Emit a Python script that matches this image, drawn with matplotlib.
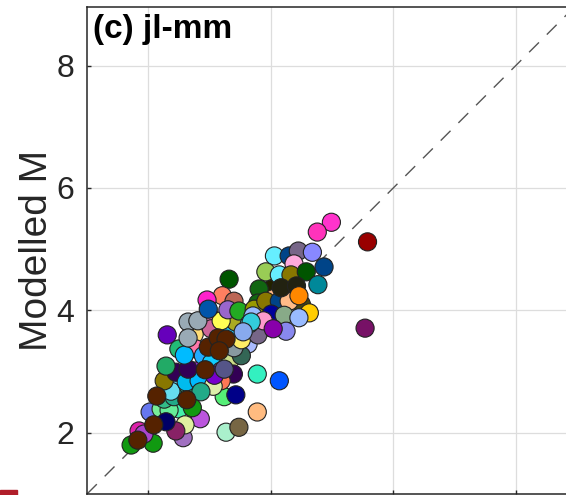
import matplotlib
matplotlib.use("Agg")
import matplotlib.pyplot as plt
from matplotlib.patches import Rectangle

# Observed M (x) and Modelled M (y), one colour per event
obs_m = [3.60, 3.88, 4.22, 3.63, 2.75, 3.11, 2.50, 2.78, 3.35, 3.04, 4.01,
         3.52, 3.32, 2.94, 2.54, 2.41, 4.04, 4.50, 4.25, 3.81, 2.78, 2.50,
         5.58, 5.54, 4.99, 4.76, 4.14, 3.78, 3.78, 3.27, 3.48, 3.24, 3.43, 3.39,
         3.32, 2.31, 2.85, 2.57, 2.60, 2.45, 2.08, 1.72, 2.23, 2.72, 1.85, 1.93,
         2.03, 2.21, 2.34, 2.26, 2.42, 2.37, 2.80, 2.29, 2.26, 2.45, 2.62, 2.83,
         2.65, 2.29, 2.59, 2.90, 3.03, 3.52, 3.19, 3.19, 3.06, 3.08, 3.24, 2.86,
         3.40, 3.52, 3.35, 3.03, 3.43, 3.19, 2.65, 2.81, 2.65, 3.21, 2.96, 3.40,
         2.98, 3.30, 3.48, 3.79, 3.73, 3.92, 4.14, 4.30, 3.71, 4.01, 4.22, 4.25,
         3.96, 3.79, 3.65, 3.88, 4.06, 4.30, 4.45, 4.68, 4.38, 3.92, 4.14, 4.33,
         4.58, 4.87, 4.77, 4.17, 4.42, 4.46, 4.63, 4.46, 4.04, 3.68, 3.55,
         1.83, 2.09, 2.14, 2.63, 2.93, 2.98, 3.14, 3.27, 3.16]
mod_m = [3.89, 3.99, 4.19, 3.45, 3.61, 3.45, 2.39, 3.01, 3.21, 3.86, 4.35,
         3.83, 3.45, 2.80, 2.63, 2.83, 4.19, 4.10, 4.35, 4.35, 3.37, 3.37,
         5.12, 3.71, 5.44, 5.28, 2.85, 2.96, 2.34, 2.01, 2.09, 2.59, 2.62, 2.96,
         4.51, 3.60, 2.23, 1.92, 2.13, 2.03, 1.83, 1.80, 2.23, 2.41, 2.03, 1.98,
         2.34, 2.39, 2.37, 2.55, 2.59, 2.68, 2.75, 2.18, 2.85, 2.99, 2.83, 2.85,
         3.04, 3.09, 3.27, 3.26, 3.14, 3.26, 3.01, 2.85, 2.76, 2.94, 3.04, 2.67,
         3.39, 3.52, 3.71, 3.70, 3.81, 3.83, 3.81, 3.83, 3.55, 4.24, 4.17, 4.15,
         4.02, 4.01, 3.99, 4.12, 4.02, 4.15, 4.15, 4.15, 3.91, 3.94, 3.92, 3.66,
         3.73, 3.60, 3.78, 3.83, 4.89, 4.89, 4.97, 4.95, 4.76, 4.63, 4.58, 4.58,
         4.63, 4.71, 4.42, 4.37, 4.40, 4.24, 3.96, 3.88, 3.70, 3.81, 3.65,
         1.88, 2.13, 2.60, 2.54, 3.03, 3.40, 3.55, 3.53, 3.34]
colours = ["#115511", "#DDAA66", "#222211", "#AABBFF", "#FFDD77", "#FFFF88",
           "#44EEAA", "#9933CC", "#CCDD88", "#DD77AA", "#222200",
           "#9999FF", "#99AA99", "#33DD99", "#33CC99", "#66DDFF", "#FFBB88",
           "#444411", "#223300", "#116611", "#FF77AA", "#22BB77",
           "#990000", "#771166", "#FF33CC", "#FF33BB", "#0055FF", "#33F0C0",
           "#FFBB80", "#AAF0CC", "#776644", "#55EE77", "#000088", "#330055",
           "#005500", "#6600BB", "#BB55DD", "#A070C0", "#E0F0A0", "#882266",
           "#119911", "#119911", "#66DDFF", "#119911", "#DD22AA", "#AA44CC",
           "#6677EE", "#77EE99", "#66EE99", "#33BB88", "#22AA88", "#66DDEE",
           "#22AA66", "#000066", "#887700", "#330055", "#00BBEE", "#00BBFF",
           "#330055", "#22AA66", "#00BBFF", "#22AAFF", "#11CCFF", "#336655",
           "#8844BB", "#FF7755", "#DDEEAA", "#7700CC", "#555588", "#22AA88",
           "#8899A0", "#FFEE66", "#22CCFF", "#CC6699", "#AAAA22", "#FFFF55",
           "#99AAB5", "#99AAB5", "#99AAB5", "#FF7F60", "#FF22CC", "#BB6655",
           "#0055AA", "#9966CC", "#22AA22", "#116611", "#999900", "#887700",
           "#004488", "#FFBB88", "#99BBFF", "#000099", "#88AA88", "#8888EE",
           "#222211", "#776688", "#55DDEE", "#FF99CC", "#66EEFF", "#004488",
           "#776688", "#8888FF", "#FFAADD", "#99CC55", "#66EEFF", "#887700",
           "#005500", "#004488", "#008899", "#222211", "#222211", "#FF8800",
           "#FFCC00", "#99BBFF", "#8800AA", "#33CCDD", "#88AAEE",
           "#552200", "#552200", "#552200", "#552200", "#552200", "#552200",
           "#552200", "#552200", "#552200"]

title_text = "(c) jl-mm"
y_label = "Modelled M"
ticks = [2, 4, 6, 8]
lims = (1, 9)

plt.rcParams['font.family'] = ['Liberation Sans', 'DejaVu Sans']

W, H = 566, 495
fig = plt.figure(figsize=(W / 100, H / 100), dpi=100)
ax = fig.add_axes([87 / W, 1 / H, 490 / W, 487 / H])

ax.set_xlim(lims)
ax.set_ylim(lims[0], lims[0] + 487 / 61.2)

ax.plot(lims, lims, color="#555555", lw=1.0, dashes=(10, 8), zorder=2)
ax.scatter(obs_m, mod_m, s=170, c=colours, edgecolors="#222222",
           linewidths=0.8, zorder=3)

ax.set_xticks(ticks)
ax.set_yticks(ticks)
ax.set_xticklabels([])
ax.set_yticklabels([str(t) for t in ticks], fontsize=23, color="#262626")
ax.tick_params(direction="in", length=3, width=1, color="#262626", pad=9)
ax.grid(True, color="#DDDDDD", lw=0.9)
ax.set_axisbelow(True)
for side in ["left", "top", "bottom"]:
    ax.spines[side].set_color("#262626")
    ax.spines[side].set_linewidth(1.1)
ax.spines["right"].set_visible(False)

ax.set_ylabel(y_label, fontsize=28, color="#262626", labelpad=1)
ax.text(0.012, 0.985, title_text, transform=ax.transAxes, fontsize=24,
        fontweight="bold", va="top", ha="left", color="#000000")

fig.patches.append(Rectangle((0, 0), 17 / W, 5 / H, transform=fig.transFigure,
                             color="#B01E2A", zorder=5))

fig.savefig("out.png", dpi=100)
